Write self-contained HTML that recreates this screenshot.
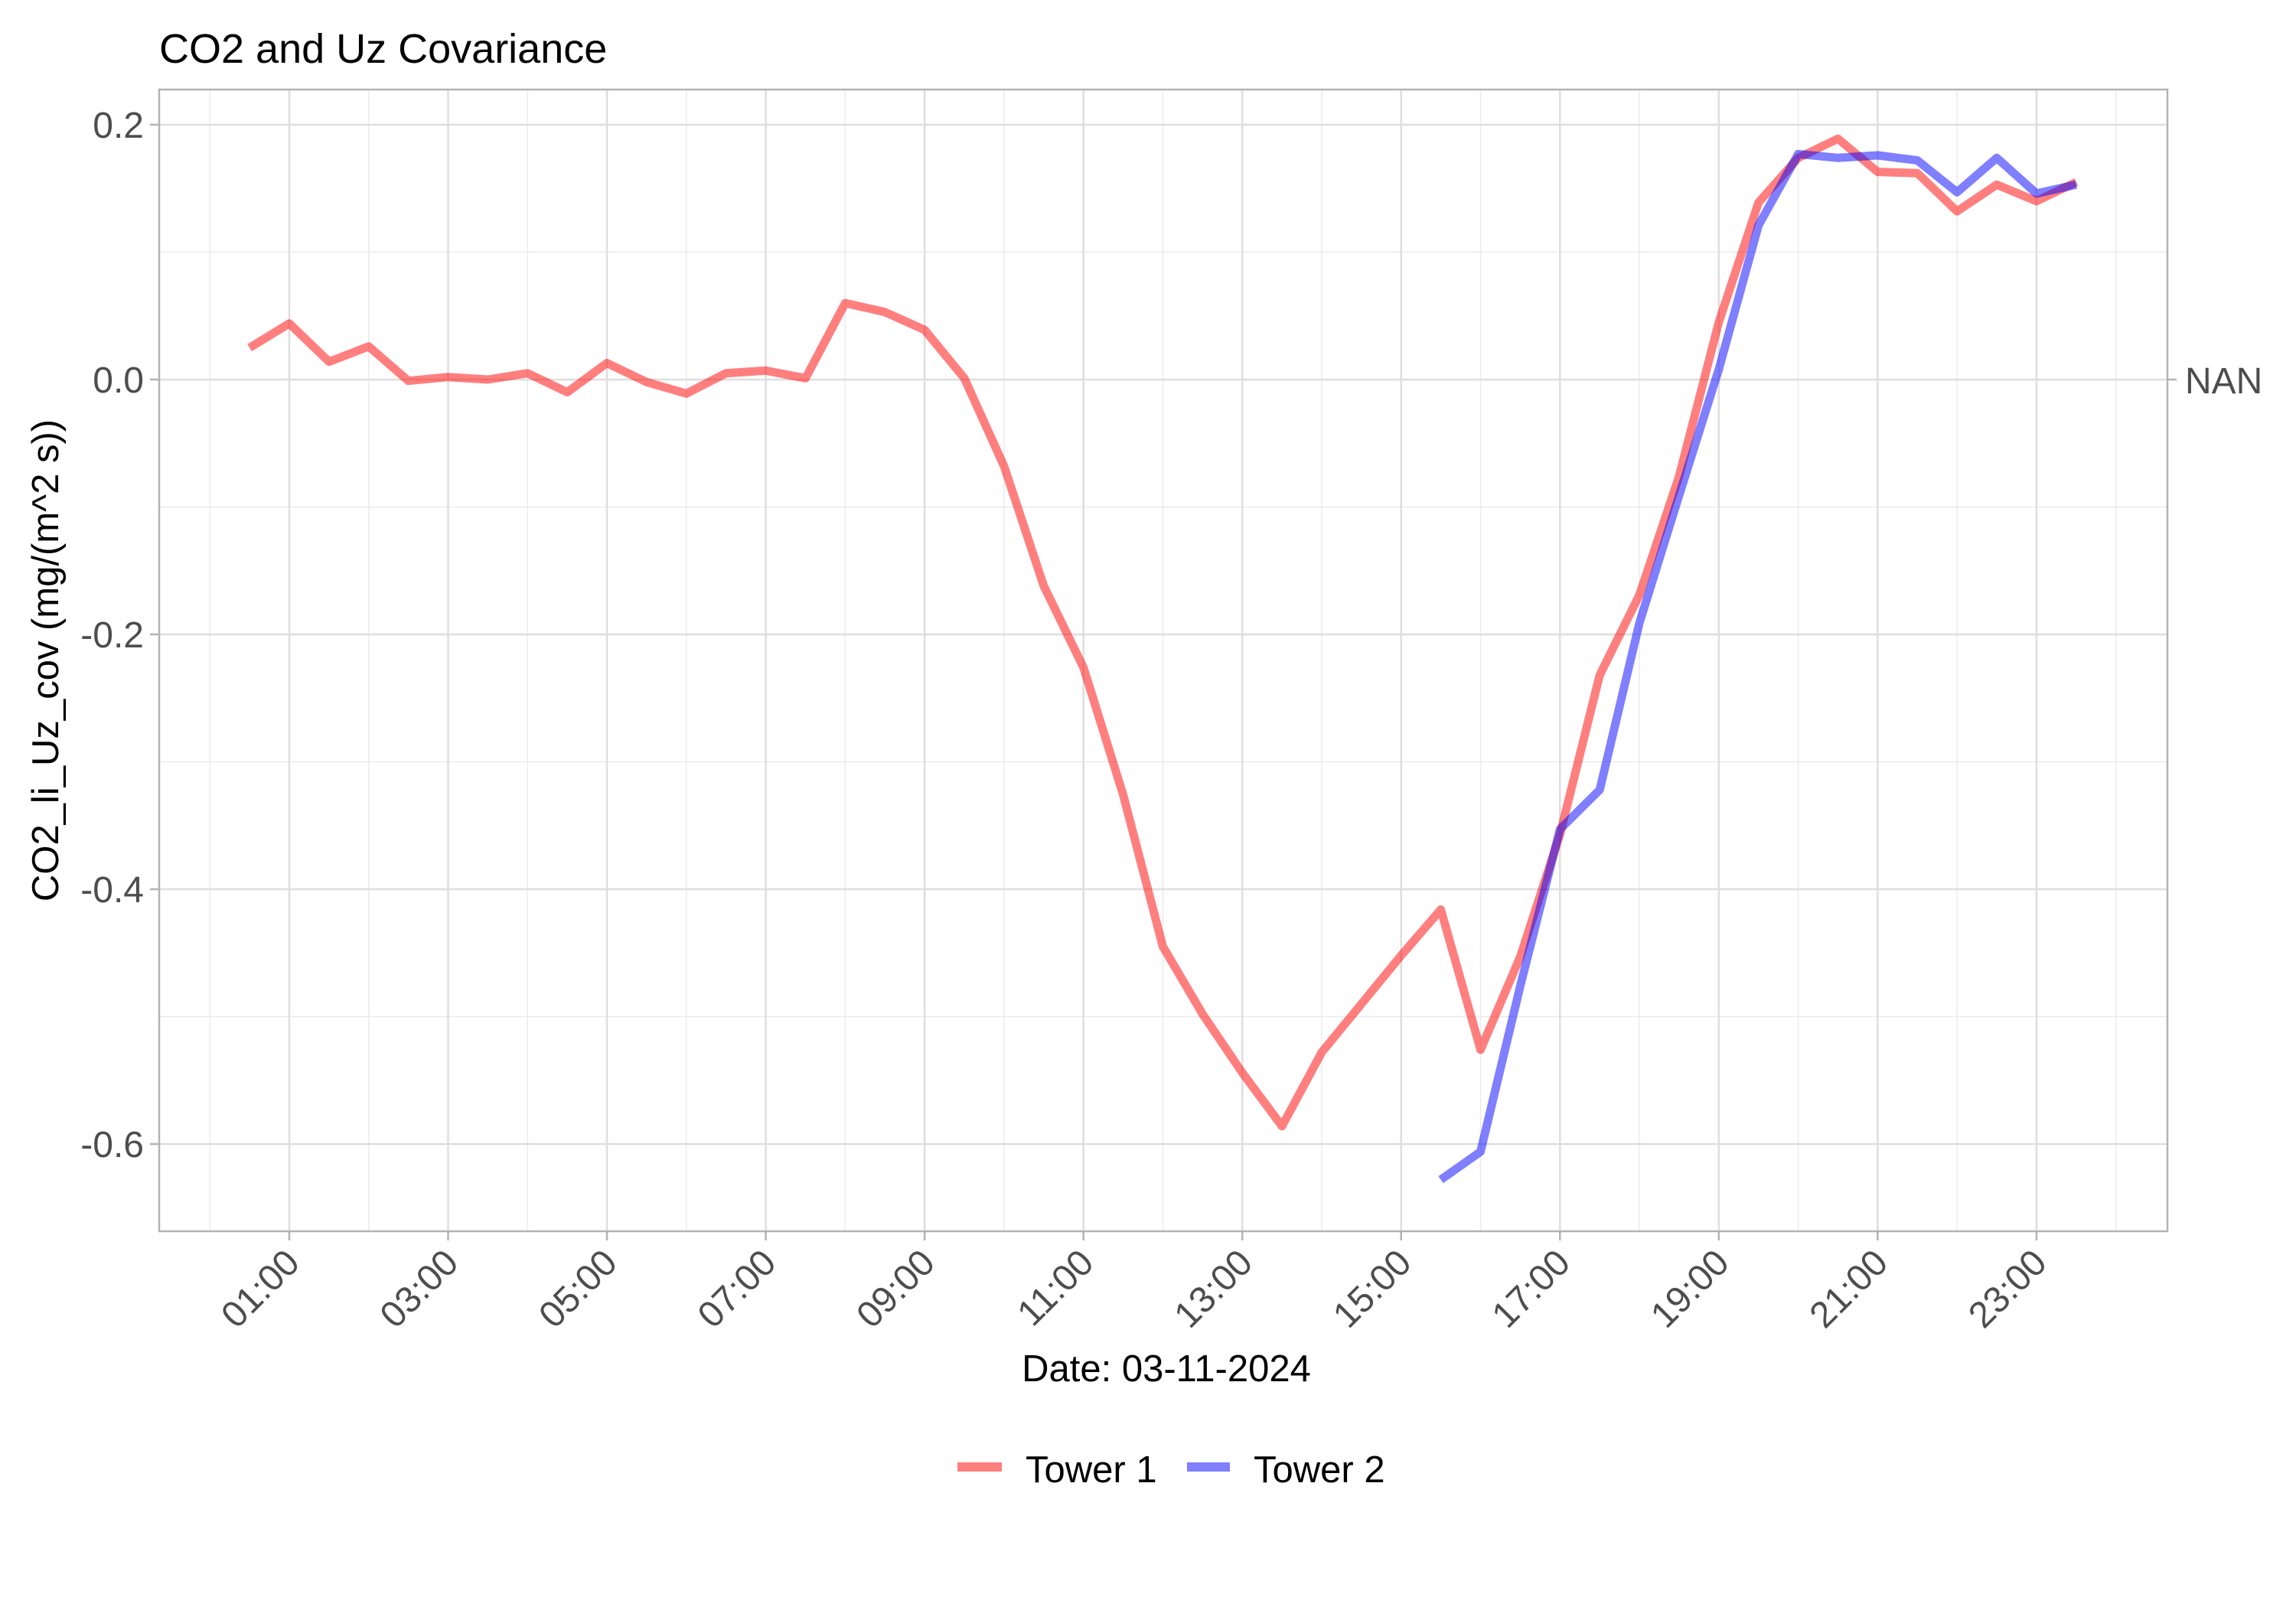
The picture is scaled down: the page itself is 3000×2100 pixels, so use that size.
<!DOCTYPE html>
<html><head><meta charset="utf-8"><style>
body{margin:0;background:#fff}
svg{display:block;font-family:"Liberation Sans",sans-serif}
</style></head><body>
<svg id="chart" width="3000" height="2100" viewBox="0 0 3000 2100" xmlns="http://www.w3.org/2000/svg">
<rect width="3000" height="2100" fill="#fff"/>
<text x="208" y="82" font-size="54" fill="#000">CO2 and Uz Covariance</text>
<g id="grid"></g>
<g id="series"></g>
<rect x="208" y="117" width="2624" height="1492" fill="none" stroke="#b3b3b3" stroke-width="2.5"/>
<g id="axes"></g>
<text transform="translate(76,863) rotate(-90)" text-anchor="middle" font-size="49" fill="#000">CO2_li_Uz_cov (mg/(m^2 s))</text>
<text x="1524" y="1805" text-anchor="middle" font-size="49" fill="#000">Date: 03-11-2024</text>
<g>
<line x1="1251" y1="1917" x2="1309" y2="1917" stroke="#ff0000" stroke-opacity="0.5" stroke-width="12"/>
<text x="1340" y="1937" font-size="49" fill="#000">Tower 1</text>
<line x1="1551" y1="1917" x2="1607" y2="1917" stroke="#0000ff" stroke-opacity="0.5" stroke-width="12"/>
<text x="1638" y="1937" font-size="49" fill="#000">Tower 2</text>
</g>
</svg>
<script>
const t1Hours = [0.5,1,1.5,2,2.5,3,3.5,4,4.5,5,5.5,6,6.5,7,7.5,8,8.5,9,9.5,10,10.5,11,11.5,12,12.5,13,13.5,14,14.5,15,15.5,16,16.5,17,17.5,18,18.5,19,19.5,20,20.5,21,21.5,22,22.5,23,23.5];
const t1Values = [0.025,0.044,0.014,0.026,-0.001,0.002,0,0.005,-0.010,0.013,-0.002,-0.011,0.005,0.007,0.001,0.060,0.053,0.039,0.001,-0.068,-0.162,-0.226,-0.326,-0.445,-0.498,-0.544,-0.586,-0.528,-0.490,-0.452,-0.416,-0.526,-0.453,-0.357,-0.232,-0.169,-0.076,0.045,0.139,0.174,0.189,0.163,0.162,0.132,0.153,0.140,0.155];
const t2Hours = [15.5,16,16.5,17,17.5,18,18.5,19,19.5,20,20.5,21,21.5,22,22.5,23,23.5];
const t2Values = [-0.628,-0.606,-0.476,-0.353,-0.322,-0.191,-0.091,0.008,0.121,0.177,0.174,0.176,0.172,0.147,0.174,0.146,0.153];
const xTickHours = [1,3,5,7,9,11,13,15,17,19,21,23];
const xTickLabels = ["01:00","03:00","05:00","07:00","09:00","11:00","13:00","15:00","17:00","19:00","21:00","23:00"];
const xMinorHours = [0,2,4,6,8,10,12,14,16,18,20,22,24];
const yTicks = [0.2,0.0,-0.2,-0.4,-0.6];
const yTickLabels = ["0.2","0.0","-0.2","-0.4","-0.6"];
const yMinor = [0.1,-0.1,-0.3,-0.5];

const NS="http://www.w3.org/2000/svg";
const L=208,R=2832,T=117,B=1609;
function xs(h){return 274.2+h*103.77;}
function ys(v){return 496-v*1665;}
function mk(tag,attrs,parent){const e=document.createElementNS(NS,tag);for(const k in attrs)e.setAttribute(k,attrs[k]);parent.appendChild(e);return e;}
const grid=document.getElementById('grid'),axes=document.getElementById('axes'),ser=document.getElementById('series');
yMinor.forEach(v=>{const e=mk('line',{x1:L,x2:R,y1:ys(v),y2:ys(v),stroke:'#ebebeb','stroke-width':1.5},grid);

});
xMinorHours.forEach(h=>{const e=mk('line',{x1:xs(h),x2:xs(h),y1:T,y2:B,stroke:'#ebebeb','stroke-width':1.5},grid);

});
yTicks.forEach((v,i)=>{const y=ys(v);
const g=mk('line',{x1:L,x2:R,y1:y,y2:y,stroke:'#dedede','stroke-width':2.5},grid);


const t=mk('line',{x1:L-12,x2:L,y1:y,y2:y,stroke:'#b3b3b3','stroke-width':2.5},axes);


const tx=mk('text',{x:L-20,y:y+17,'text-anchor':'end','font-size':48,fill:'#4d4d4d'},axes);tx.textContent=yTickLabels[i];

});
xTickHours.forEach((h,i)=>{const x=xs(h);
const g=mk('line',{x1:x,x2:x,y1:T,y2:B,stroke:'#dedede','stroke-width':2.5},grid);


const t=mk('line',{x1:x,x2:x,y1:B,y2:B+12,stroke:'#b3b3b3','stroke-width':2.5},axes);


const tx=mk('text',{x:x+16,y:B+44,'text-anchor':'end','font-size':48,fill:'#4d4d4d',transform:`rotate(-45 ${x+16} ${B+44})`},axes);tx.textContent=xTickLabels[i];

});
const st=mk('line',{x1:R,x2:R+12,y1:ys(0),y2:ys(0),stroke:'#b3b3b3','stroke-width':2.5},axes);


const nan=mk('text',{x:R+23,y:ys(0)+18,'font-size':48,fill:'#4d4d4d'},axes);nan.textContent='NAN';


function line(hs,vs,color,name){const p=hs.map((h,i)=>xs(h).toFixed(1)+','+ys(vs[i]).toFixed(1)).join(' ');
const e=mk('polyline',{points:p,fill:'none',stroke:color,'stroke-opacity':0.5,'stroke-width':11,'stroke-linejoin':'round'},ser);

}
line(t1Hours,t1Values,'#ff0000','tower-1-line');
line(t2Hours,t2Values,'#0000ff','tower-2-line');
</script>
</body></html>
